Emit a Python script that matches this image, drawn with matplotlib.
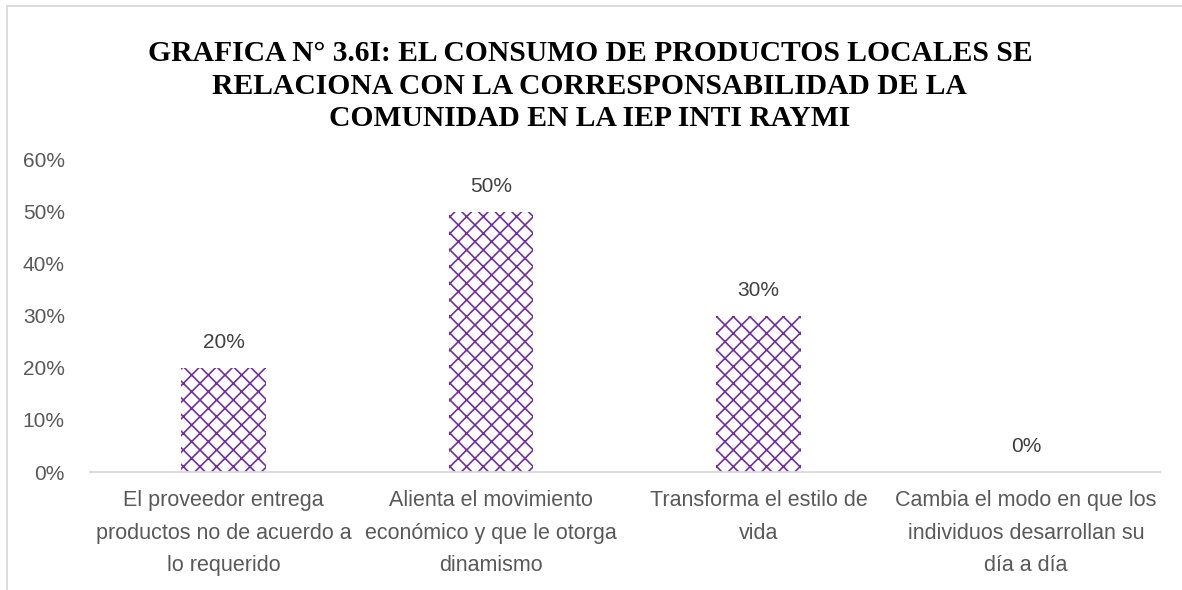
import matplotlib.pyplot as plt
from matplotlib.patches import Rectangle

categories = [
    'El proveedor entrega\nproductos no de acuerdo a\nlo requerido',
    'Alienta el movimiento\neconómico y que le otorga\ndinamismo',
    'Transforma el estilo de\nvida',
    'Cambia el modo en que los\nindividuos desarrollan su\ndía a día',
]
values = [0.20, 0.50, 0.30, 0.00]
labels = ['20%', '50%', '30%', '0%']
yticks = [0, 0.1, 0.2, 0.3, 0.4, 0.5, 0.6]
ytick_labels = ['0%', '10%', '20%', '30%', '40%', '50%', '60%']

purple = '#7030A0'
plt.rcParams['hatch.linewidth'] = 1.2

fig = plt.figure(figsize=(11.82, 5.9), dpi=100)
ax = fig.add_axes([0.076, 0.2, 0.905, 0.529])

x = list(range(len(categories)))
ax.bar(x, values, width=0.315, color='white', edgecolor=purple,
       linewidth=0, hatch='xx')

for xi, v, lab in zip(x, values, labels):
    ax.annotate(lab, (xi, v), xytext=(0, 18), textcoords='offset points',
                ha='center', va='center', fontsize=15, color='#404040',
                family='Liberation Sans')

ax.set_xlim(-0.5, 3.5)
ax.set_ylim(0, 0.6)
ax.set_yticks(yticks)
ax.set_yticklabels(ytick_labels, fontsize=15, color='#595959',
                   family='Liberation Sans')
ax.set_xticks(x)
ax.set_xticklabels(categories, fontsize=15.5, color='#595959',
                   family='Liberation Sans', linespacing=1.72)
ax.tick_params(length=0)
ax.tick_params(axis='x', pad=13)
ax.tick_params(axis='y', pad=18)

for s in ['top', 'right', 'left']:
    ax.spines[s].set_visible(False)
ax.spines['bottom'].set_color('#d9d9d9')
ax.spines['bottom'].set_linewidth(1.3)

fig.text(0.499, 0.854, 'GRAFICA N° 3.6I: EL CONSUMO DE PRODUCTOS LOCALES SE\n'
         'RELACIONA CON LA CORRESPONSABILIDAD DE LA\n'
         'COMUNIDAD EN LA IEP INTI RAYMI',
         ha='center', va='center', fontsize=21.3, fontweight='bold',
         family='Liberation Serif', linespacing=1.25)

# marco del gráfico
fig.patches.append(Rectangle((7 / 1182, -0.1), 1.2, 1.1 - 6 / 590,
                             transform=fig.transFigure, fill=False,
                             edgecolor='#d9d9d9', linewidth=1.3))

plt.savefig('out.png', dpi=100)
